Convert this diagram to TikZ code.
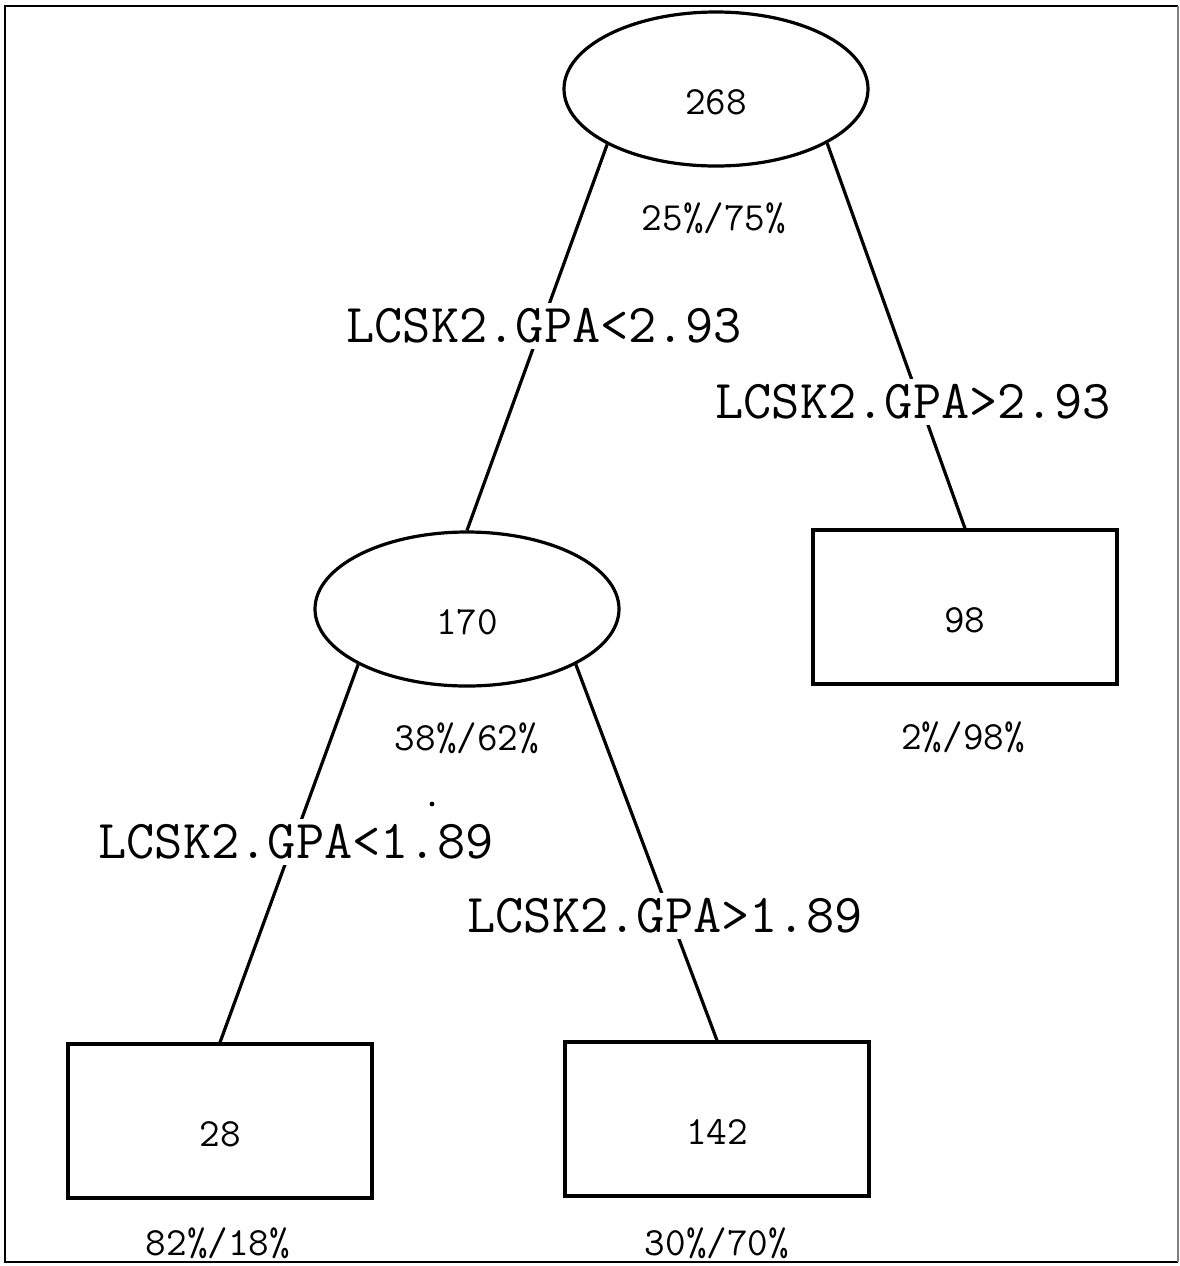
\documentclass[tikz,border=0pt]{standalone}
\usepackage{tikz}
\usetikzlibrary{shapes.geometric}

\begin{document}
\begin{tikzpicture}[x=0.5pt, y=-0.5pt,
    split/.style={draw, ellipse, line width=1.6pt, minimum width=152pt, minimum height=77pt, inner sep=0pt},
    leaf/.style={draw, rectangle, line width=1.6pt, minimum width=152pt, minimum height=77pt, inner sep=0pt},
    count/.style={font=\ttfamily\fontsize{20}{24}\selectfont},
    cond/.style={fill=white, inner sep=3pt, font=\ttfamily\fontsize{27.4}{32}\selectfont},
    branch/.style={line width=1.6pt}]
    \useasboundingbox (0,0) rectangle (1180,1266);
    \draw[line width=1.4pt] (1178,1262) -- (5,1262) -- (5,6) -- (1178,6);
    \draw[gray, line width=0.6pt] (1178,6) -- (1178,1262);

    \node[split, label={[count, yshift=-6.5pt]center:268}] (N268) at (716,89) {};
    \node[split, label={[count, yshift=-6.5pt]center:170}] (N170) at (467,609) {};
    \node[leaf, label={[count, yshift=-6.5pt]center:98}]  (N98)  at (965,607) {};
    \node[leaf, label={[count, yshift=-6.5pt]center:28}]  (N28)  at (220,1121) {};
    \node[leaf, label={[count, yshift=-6.5pt]center:142}] (N142) at (717,1119) {};

    \node[count] (P268) at (714,218)  {25\%/75\%};
    \node[count] (P170) at (467,738)  {38\%/62\%};
    \node[count] (P98)  at (963,737)  {2\%/98\%};
    \node[count] (P28)  at (218,1243) {82\%/18\%};
    \node[count] (P142) at (717,1243) {30\%/70\%};

    \draw[branch] (N268.207) -- (N170.north);
    \draw[branch] (N268.334) -- (N98.north);
    \draw[branch] (N170.207) -- (N28.north);
    \draw[branch] (N170.333) -- (N142.north);

    \node[cond] (C1) at (544,326) {LCSK2.GPA<2.93};
    \node[cond] (C2) at (913,402) {LCSK2.GPA>2.93};
    \node[cond] (C3) at (296,842) {LCSK2.GPA<1.89};
    \node[cond] (C4) at (665,916) {LCSK2.GPA>1.89};

    \fill (432,804) circle (1.2pt);
\end{tikzpicture}
\end{document}
